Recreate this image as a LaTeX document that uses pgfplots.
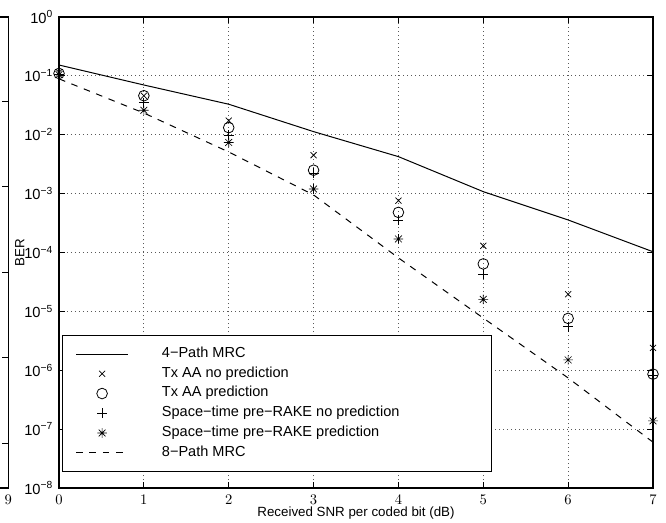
\documentclass[border=0pt]{standalone}
\usepackage{fontspec}
\setmainfont{Liberation Sans}
\usepackage{pgfplots}
\pgfplotsset{compat=1.18}

% MATLAB-style '*' marker: a + and an x on top of each other
\pgfdeclareplotmark{mstar}{%
  \pgfpathmoveto{\pgfqpoint{-\pgfplotmarksize}{0pt}}%
  \pgfpathlineto{\pgfqpoint{\pgfplotmarksize}{0pt}}%
  \pgfpathmoveto{\pgfqpoint{0pt}{-\pgfplotmarksize}}%
  \pgfpathlineto{\pgfqpoint{0pt}{\pgfplotmarksize}}%
  \pgfpathmoveto{\pgfqpoint{-.7071\pgfplotmarksize}{-.7071\pgfplotmarksize}}%
  \pgfpathlineto{\pgfqpoint{.7071\pgfplotmarksize}{.7071\pgfplotmarksize}}%
  \pgfpathmoveto{\pgfqpoint{-.7071\pgfplotmarksize}{.7071\pgfplotmarksize}}%
  \pgfpathlineto{\pgfqpoint{.7071\pgfplotmarksize}{-.7071\pgfplotmarksize}}%
  \pgfusepathqstroke}

\begin{document}
\begin{tikzpicture}
\useasboundingbox (-44.25pt,-26.25pt) rectangle (455.25pt,366pt);

% cut-off neighbour panel on the left
\begin{axis}[
  at={(-38pt,0pt)}, anchor=south east,
  scale only axis, width=40pt, height=353.25pt,
  xmin=8, xmax=9, ymin=0, ymax=5.5,
  xtick={9}, ytick={0.52,1.52,2.52,3.52,4.52}, yticklabels={},
  tick align=inside, major tick length=4.5pt,
  axis line style={line width=0.9pt},
  tick style={black, line width=0.6pt},
  ticklabel style={font=\fontsize{11}{13}\selectfont},
  xticklabel style={yshift=-2pt},
]
\end{axis}

\begin{axis}[
  at={(0pt,0pt)}, anchor=south west,
  scale only axis, width=445.5pt, height=353.25pt,
  ymode=log,
  xmin=0, xmax=7, ymin=1e-8, ymax=1,
  xtick={0,1,2,3,4,5,6,7},
  ytick={1e-8,1e-7,1e-6,1e-5,1e-4,1e-3,1e-2,1e-1,1},
  yticklabels={10\textsuperscript{−8},10\textsuperscript{−7},10\textsuperscript{−6},10\textsuperscript{−5},10\textsuperscript{−4},10\textsuperscript{−3},10\textsuperscript{−2},10\textsuperscript{−1},10\textsuperscript{0}},
  minor tick num=0, yminorticks=false,
  tick align=inside, major tick length=4.5pt,
  axis line style={line width=0.9pt},
  tick style={black, line width=0.6pt},
  grid=major,
  grid style={black!65, line width=0.6pt, dash pattern=on 0.6pt off 2.4pt},
  ticklabel style={font=\fontsize{11}{13}\selectfont},
  xticklabel style={yshift=-2pt},
  yticklabel style={xshift=-1pt},
  label style={font=\fontsize{10}{12}\selectfont},
  xlabel={Received SNR per coded bit (dB)},
  ylabel={BER},
  xlabel style={yshift=5pt},
  ylabel style={yshift=-7pt},
  clip=false,
  legend cell align=left,
  legend image code/.code={%
    \draw[mark repeat=2,mark phase=2,#1] plot coordinates {(0pt,0pt) (19.5pt,0pt) (39pt,0pt)};},
  legend style={
    at={(0,0)}, anchor=south west, xshift=2.25pt, yshift=12pt,
    draw=black, line width=0.9pt,
    font=\fontsize{10.9}{13}\selectfont,
    inner xsep=9.75pt, inner ysep=9pt,
    row sep=4.8pt, column sep=25pt,
    nodes={inner sep=0pt, text height=7.5pt, text depth=2.5pt},
  },
]

% 4-Path MRC
\addplot[black, line width=0.75pt] coordinates {
  (0,0.153) (1,0.070) (2,0.033) (3,0.0113) (4,0.00425) (5,0.00108) (6,3.57e-4) (7,1.03e-4)
};
\addlegendentry{4−Path MRC}

% Tx AA no prediction
\addplot[black, only marks, mark=x, mark size=3.2pt, line width=0.55pt] coordinates {
  (0,0.115) (1,0.046) (2,0.0174) (3,0.0045) (4,7.6e-4) (5,1.3e-4) (6,1.96e-5) (7,2.4e-6)
};
\addlegendentry{Tx AA no prediction}

% Tx AA prediction
\addplot[black, only marks, mark=o, mark size=4pt, line width=0.6pt] coordinates {
  (0,0.11) (1,0.046) (2,0.0132) (3,0.0025) (4,4.8e-4) (5,6.4e-5) (6,7.6e-6) (7,8.6e-7)
};
\addlegendentry{Tx AA prediction}

% Space-time pre-RAKE no prediction
\addplot[black, only marks, mark=+, mark size=3.75pt, line width=0.55pt] coordinates {
  (0,0.108) (1,0.035) (2,0.0099) (3,0.0022) (4,3.5e-4) (5,4.3e-5) (6,5.5e-6) (7,8.3e-7)
};
\addlegendentry{Space−time pre−RAKE no prediction\hspace*{59pt}}

% Space-time pre-RAKE prediction
\addplot[black, only marks, mark=mstar, mark size=3.6pt, line width=0.5pt] coordinates {
  (0,0.105) (1,0.026) (2,0.0074) (3,0.0012) (4,1.7e-4) (5,1.6e-5) (6,1.5e-6) (7,1.38e-7)
};
\addlegendentry{Space−time pre−RAKE prediction}

% 8-Path MRC
\addplot[black, line width=0.75pt, dash pattern=on 5pt off 5pt] coordinates {
  (0,0.089) (1,0.0234) (2,0.0051) (3,9.5e-4) (4,8.1e-5) (5,7.7e-6) (6,7.4e-7) (7,6.0e-8)
};
\addlegendentry{8−Path MRC}

\end{axis}
\end{tikzpicture}
\end{document}
